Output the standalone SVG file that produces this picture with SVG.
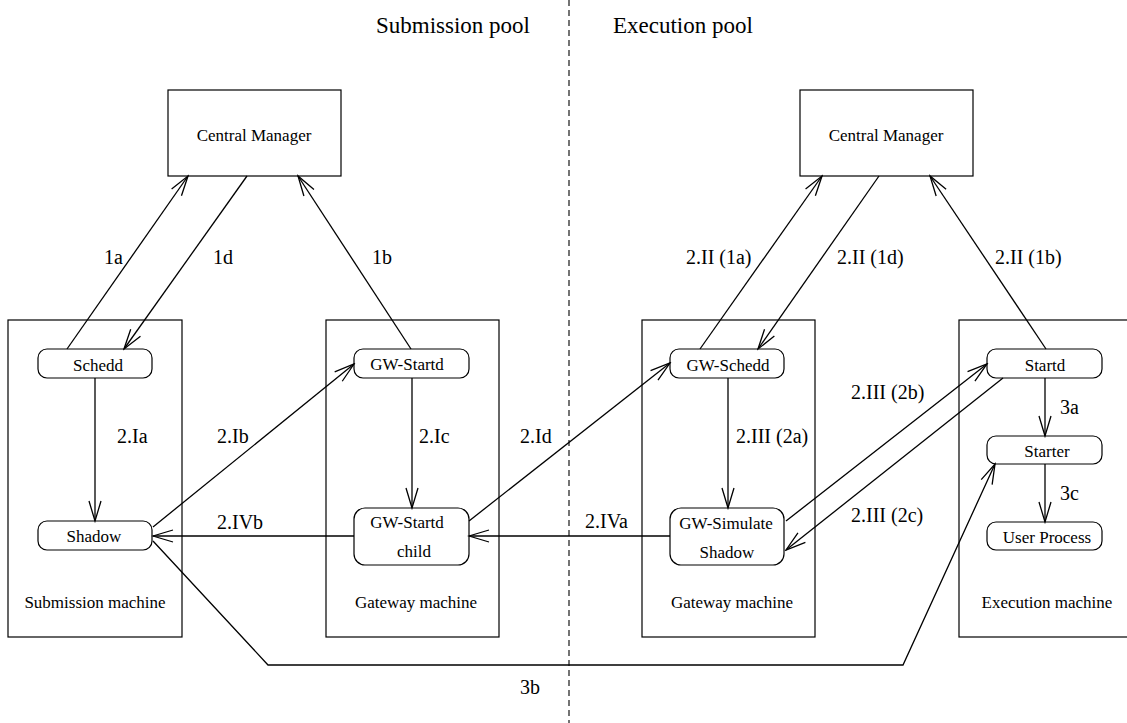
<svg xmlns="http://www.w3.org/2000/svg" width="1127" height="723" viewBox="0 0 1127 723">
<style>
text{font-family:"Liberation Serif","Times New Roman",serif;fill:#000}
.title{font-size:23px}
.node{font-size:17px;text-anchor:middle}
.lab{font-size:20px}
.box{fill:#fff;stroke:#000;stroke-width:1.2}
.rnd{fill:#fff;stroke:#000;stroke-width:1.2}
.c{fill:none;stroke:#000;stroke-width:1.3}
.arr{marker-end:url(#ah)}
</style>
<defs>
<marker id="ah" markerUnits="userSpaceOnUse" viewBox="-22 -8 24 16" refX="0" refY="0" markerWidth="24" markerHeight="16" orient="auto">
<path d="M-20,-6 L0,0 L-20,6" fill="none" stroke="#000" stroke-width="1.3"/>
</marker>
</defs>
<rect width="1127" height="723" fill="#fff"/>
<line x1="569" y1="0" x2="569" y2="723" stroke="#000" stroke-width="1.1" stroke-dasharray="6,4"/>
<text class="title" x="376" y="33">Submission pool</text>
<text class="title" x="613" y="33">Execution pool</text>

<g id="machines">
<g id="submission-machine"><rect class="box" x="8" y="320" width="174" height="317"/><text class="node" x="95" y="608">Submission machine</text></g>
<g id="gateway-machine-1"><rect class="box" x="326" y="320" width="173" height="317"/><text class="node" x="416" y="608">Gateway machine</text></g>
<g id="gateway-machine-2"><rect class="box" x="642" y="320" width="173" height="317"/><text class="node" x="732" y="608">Gateway machine</text></g>
<g id="execution-machine"><rect class="box" x="959" y="320" width="180" height="317"/><text class="node" x="1047" y="608">Execution machine</text></g>
</g>

<g id="cm-submission"><rect class="box" x="168" y="90" width="173" height="86"/><text class="node" x="254" y="141">Central Manager</text></g>
<g id="cm-execution"><rect class="box" x="800" y="90" width="173" height="86"/><text class="node" x="886" y="141">Central Manager</text></g>

<g id="schedd"><rect class="rnd" x="38" y="349" width="114" height="29" rx="9"/><text class="node" x="98" y="371">Schedd</text></g>
<g id="shadow"><rect class="rnd" x="38" y="521" width="114" height="29" rx="9"/><text class="node" x="94" y="542">Shadow</text></g>
<g id="gw-startd"><rect class="rnd" x="354" y="349" width="115" height="29" rx="9"/><text class="node" x="407" y="370">GW-Startd</text></g>
<g id="gw-startd-child"><rect class="rnd" x="354" y="508" width="115" height="57" rx="11"/><text class="node" x="407" y="528">GW-Startd</text><text class="node" x="414" y="557">child</text></g>
<g id="gw-schedd"><rect class="rnd" x="670" y="349" width="114" height="29" rx="9"/><text class="node" x="728" y="371">GW-Schedd</text></g>
<g id="gw-simulate-shadow"><rect class="rnd" x="670" y="508" width="114" height="57" rx="11"/><text class="node" x="726" y="529">GW-Simulate</text><text class="node" x="727" y="558">Shadow</text></g>
<g id="startd"><rect class="rnd" x="987" y="349" width="115" height="29" rx="9"/><text class="node" x="1045" y="371">Startd</text></g>
<g id="starter"><rect class="rnd" x="987" y="436" width="115" height="28" rx="9"/><text class="node" x="1047" y="457">Starter</text></g>
<g id="user-process"><rect class="rnd" x="987" y="522" width="115" height="28" rx="9"/><text class="node" x="1047" y="543">User Process</text></g>

<g id="connectors">
<line class="c arr" x1="67" y1="349" x2="188" y2="176"/>
<line class="c arr" x1="247" y1="176" x2="124" y2="349"/>
<line class="c arr" x1="411" y1="349" x2="298" y2="176"/>
<line class="c arr" x1="700" y1="349" x2="822" y2="176"/>
<line class="c arr" x1="879" y1="176" x2="758" y2="349"/>
<line class="c arr" x1="1046" y1="349" x2="930" y2="176"/>
<line class="c arr" x1="95" y1="378" x2="95" y2="521"/>
<line class="c arr" x1="153" y1="527" x2="354" y2="364"/>
<line class="c arr" x1="412" y1="378" x2="412" y2="508"/>
<line class="c arr" x1="469" y1="521" x2="670" y2="363"/>
<line class="c arr" x1="728" y1="378" x2="728" y2="508"/>
<line class="c arr" x1="786" y1="521" x2="987" y2="364"/>
<line class="c arr" x1="1003" y1="378" x2="786" y2="550"/>
<line class="c arr" x1="1045" y1="378" x2="1045" y2="436"/>
<line class="c arr" x1="1045" y1="464" x2="1045" y2="522"/>
<line class="c arr" x1="670" y1="536" x2="469" y2="536"/>
<line class="c arr" x1="354" y1="536" x2="153" y2="536"/>
<polyline class="c arr" points="153,541 268,665 903,665 995,464"/>
</g>

<g id="labels">
<text class="lab" x="104" y="264">1a</text>
<text class="lab" x="213" y="264">1d</text>
<text class="lab" x="372" y="264">1b</text>
<text class="lab" x="686" y="264">2.II (1a)</text>
<text class="lab" x="837" y="264">2.II (1d)</text>
<text class="lab" x="995" y="264">2.II (1b)</text>
<text class="lab" x="117" y="443">2.Ia</text>
<text class="lab" x="217" y="443">2.Ib</text>
<text class="lab" x="419" y="443">2.Ic</text>
<text class="lab" x="520" y="443">2.Id</text>
<text class="lab" x="736" y="443">2.III (2a)</text>
<text class="lab" x="851" y="399">2.III (2b)</text>
<text class="lab" x="851" y="522">2.III (2c)</text>
<text class="lab" x="1060" y="414">3a</text>
<text class="lab" x="1060" y="500">3c</text>
<text class="lab" x="585" y="528">2.IVa</text>
<text class="lab" x="217" y="529">2.IVb</text>
<text class="lab" x="520" y="694">3b</text>
</g>
</svg>
